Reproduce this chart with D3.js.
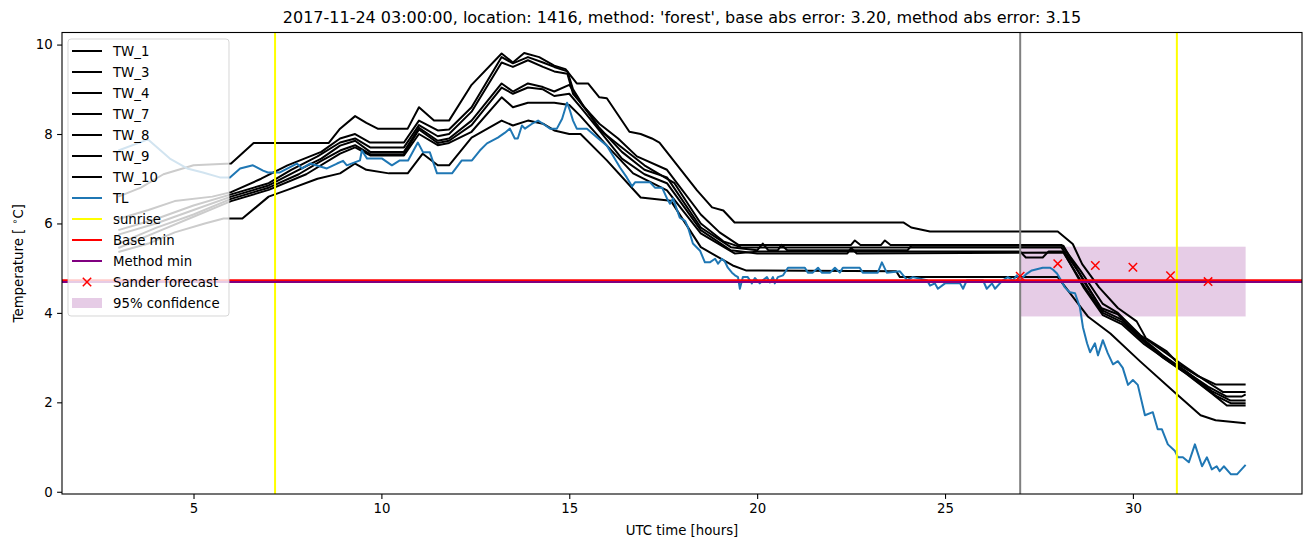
<!DOCTYPE html>
<html lang="en">
<head>
<meta charset="utf-8">
<title>forecast plot</title>
<script src="https://d3js.org/d3.v7.min.js"></script>
<style>
  body { margin: 0; background: #fff; }
  text { font-family: "DejaVu Sans", sans-serif; fill: #000; }
</style>
</head>
<body>
<script>
// readings: [hour, temperature]
var tw1 = [[3.0,6.6],[3.6,6.8],[4.2,7.1],[5.0,7.3],[6.0,7.34],[6.6,7.8],[8.6,7.8],[8.9,8.12],[9.3,8.4],[9.6,8.25],[9.9,8.12],[10.7,8.12],[11.0,8.6],[11.4,8.3],[11.8,8.3],[12.4,9.1],[13.2,9.8],[13.5,9.6],[13.8,9.81],[14.2,9.72],[14.6,9.53],[14.9,9.45],[15.2,9.13],[15.5,9.13],[15.8,8.82],[16.0,8.8],[16.6,8.05],[16.9,8.0],[17.2,7.9],[17.4,7.81],[18.4,6.74],[18.8,6.36],[19.1,6.29],[19.4,6.02],[23.9,6.02],[24.1,5.91],[24.6,5.82],[28.0,5.82],[28.4,5.54],[28.65,5.09],[29.1,4.57],[29.6,4.11],[30.1,3.81],[30.35,3.43],[30.9,3.14],[31.25,2.83],[31.7,2.6],[32.2,2.4],[33.0,2.4]];
var tw3 = [[3.0,6.1],[3.8,6.3],[4.5,6.5],[5.5,6.6],[6.0,6.7],[6.8,7.0],[7.5,7.3],[8.4,7.6],[8.9,7.9],[9.3,8.0],[9.7,7.81],[10.6,7.81],[11.0,8.3],[11.5,8.08],[11.8,8.1],[12.4,8.6],[13.2,9.72],[13.5,9.58],[13.9,9.72],[14.3,9.6],[14.6,9.5],[14.95,9.4],[15.1,9.0],[15.4,8.6],[15.8,8.23],[16.3,7.9],[16.8,7.5],[17.6,7.2],[18.5,6.2],[19.0,5.8],[19.5,5.52],[22.5,5.52],[22.6,5.62],[22.75,5.52],[23.3,5.52],[23.4,5.62],[23.55,5.52],[28.1,5.52],[28.6,4.95],[29.2,4.2],[29.6,4.0],[30.2,3.5],[30.8,3.15],[31.3,2.85],[31.9,2.5],[32.4,2.23],[33.0,2.23]];
var tw4 = [[3.0,5.85],[4.0,6.1],[5.0,6.4],[6.0,6.65],[7.0,6.9],[7.6,7.2],[8.3,7.5],[8.9,7.81],[9.3,7.9],[9.7,7.7],[10.6,7.7],[11.0,8.2],[11.5,7.95],[11.8,8.0],[12.4,8.5],[13.2,9.6],[13.5,9.5],[13.9,9.65],[14.3,9.5],[14.6,9.4],[14.95,9.35],[15.1,8.9],[15.5,8.5],[15.8,8.1],[16.4,7.7],[17.0,7.3],[17.8,6.9],[18.5,6.0],[19.1,5.6],[19.6,5.46],[28.1,5.46],[28.6,4.86],[29.15,4.11],[29.6,3.97],[30.1,3.5],[30.7,3.1],[31.3,2.75],[32.0,2.35],[32.5,2.13],[32.9,2.13],[33.0,2.18]];
var tw7 = [[3.0,5.75],[4.0,6.0],[5.0,6.3],[6.0,6.6],[7.0,6.85],[7.8,7.2],[8.4,7.45],[8.9,7.74],[9.3,7.85],[9.7,7.6],[10.6,7.6],[11.0,8.14],[11.5,7.85],[11.8,7.9],[12.4,8.3],[13.2,9.13],[13.5,8.95],[13.9,9.13],[14.3,9.05],[14.6,8.95],[15.0,9.1],[15.3,8.7],[15.8,8.14],[16.4,7.6],[17.0,7.2],[17.6,7.03],[18.5,5.91],[19.3,5.47],[20.0,5.4],[20.15,5.55],[20.3,5.4],[20.55,5.4],[20.65,5.52],[20.8,5.4],[24.0,5.4],[24.1,5.5],[28.15,5.5],[28.7,4.7],[29.2,4.05],[29.7,3.85],[30.3,3.4],[30.8,3.05],[31.4,2.7],[32.1,2.25],[32.6,2.04],[33.0,2.04]];
var tw8 = [[3.0,5.55],[4.0,5.9],[5.0,6.2],[6.0,6.55],[7.0,6.8],[7.8,7.1],[8.4,7.4],[8.9,7.63],[9.3,7.75],[9.7,7.55],[10.6,7.55],[11.0,8.1],[11.5,7.8],[11.8,7.85],[12.4,8.2],[13.2,9.04],[13.5,8.9],[13.9,9.04],[14.3,9.0],[14.6,8.85],[15.0,8.9],[15.3,8.6],[15.8,8.08],[16.4,7.45],[17.0,7.1],[17.6,6.9],[18.5,5.85],[19.3,5.4],[20.0,5.33],[22.4,5.33],[22.5,5.45],[22.65,5.33],[28.15,5.35],[28.7,4.6],[29.2,4.0],[29.7,3.8],[30.3,3.35],[30.8,3.0],[31.4,2.65],[32.1,2.2],[32.5,1.93],[33.0,1.93]];
var tw9 = [[3.0,5.45],[4.0,5.8],[5.0,6.15],[6.0,6.5],[7.0,6.75],[8.0,7.1],[8.9,7.56],[9.3,7.7],[9.7,7.52],[10.6,7.52],[11.0,8.0],[11.5,7.75],[11.8,7.8],[12.4,8.05],[13.2,8.82],[13.5,8.6],[13.9,8.7],[14.6,8.7],[15.0,8.65],[15.3,8.4],[16.0,7.74],[16.7,7.12],[17.6,6.74],[18.5,5.78],[19.4,5.33],[20.0,5.37],[27.0,5.37],[27.15,5.24],[27.6,5.24],[27.75,5.37],[28.15,5.37],[28.7,4.55],[29.2,3.95],[29.7,3.75],[30.3,3.3],[30.9,2.95],[31.5,2.6],[32.2,2.15],[32.6,1.98],[33.0,1.98]];
var tw10 = [[3.0,5.36],[3.8,5.55],[4.5,5.8],[5.3,6.0],[5.8,6.11],[6.3,6.11],[7.0,6.6],[7.5,6.75],[8.3,7.0],[8.9,7.12],[9.3,7.34],[9.6,7.2],[10.2,7.12],[10.7,7.12],[11.1,7.56],[11.5,7.3],[11.8,7.3],[12.4,7.92],[13.2,8.3],[13.5,8.19],[13.9,8.3],[14.3,8.23],[14.6,8.08],[15.0,8.0],[15.3,8.0],[16.0,7.41],[16.9,6.58],[17.7,6.51],[18.5,5.47],[19.35,5.06],[19.7,4.95],[23.7,4.93],[23.8,4.8],[28.0,4.8],[28.8,3.92],[29.4,3.54],[30.2,2.91],[31.1,2.23],[31.8,1.71],[32.2,1.6],[33.0,1.53]];
var tl = [[3.0,7.63],[3.79,7.88],[4.37,7.45],[4.83,7.23],[5.25,7.14],[5.7,7.03],[5.97,7.03],[6.24,7.23],[6.58,7.3],[6.85,7.18],[6.98,7.14],[7.3,7.14],[7.75,7.34],[7.89,7.23],[8.1,7.34],[8.55,7.23],[8.82,7.34],[8.98,7.4],[9.08,7.3],[9.43,7.41],[9.48,7.63],[9.62,7.45],[10.02,7.45],[10.28,7.3],[10.49,7.41],[10.71,7.41],[10.97,7.81],[11.11,7.59],[11.29,7.59],[11.48,7.12],[11.88,7.12],[12.14,7.41],[12.41,7.41],[12.62,7.63],[12.81,7.79],[13.1,7.92],[13.29,8.03],[13.42,8.12],[13.55,7.9],[13.63,7.9],[13.74,8.19],[13.82,8.12],[14.01,8.23],[14.17,8.3],[14.3,8.23],[14.49,8.12],[14.67,8.12],[14.81,8.34],[14.94,8.7],[15.02,8.52],[15.1,8.3],[15.2,8.12],[15.47,8.12],[15.74,7.92],[16.0,7.74],[16.16,7.52],[16.35,7.25],[16.53,7.03],[16.67,6.83],[16.75,6.92],[17.15,6.92],[17.28,6.8],[17.47,6.8],[17.6,6.56],[17.68,6.44],[17.76,6.56],[17.94,6.13],[18.08,6.06],[18.16,5.91],[18.29,5.55],[18.48,5.39],[18.61,5.13],[18.74,5.13],[18.88,5.21],[18.96,5.1],[19.06,5.21],[19.14,5.15],[19.22,5.01],[19.33,4.9],[19.41,4.84],[19.49,4.8],[19.54,4.54],[19.62,4.8],[19.75,4.8],[19.86,4.66],[19.94,4.78],[20.07,4.66],[20.15,4.73],[20.26,4.8],[20.34,4.68],[20.42,4.8],[20.47,4.66],[20.55,4.8],[20.69,4.84],[20.82,5.01],[21.27,5.01],[21.35,4.9],[21.48,4.9],[21.62,5.01],[21.72,4.9],[21.94,4.9],[22.07,5.01],[22.2,4.9],[22.28,5.01],[22.73,5.01],[22.81,4.9],[23.21,4.9],[23.32,5.13],[23.45,4.9],[23.8,4.93],[23.99,4.73],[24.14,4.8],[24.52,4.73],[24.6,4.61],[24.73,4.66],[24.81,4.54],[25.0,4.66],[25.4,4.66],[25.48,4.54],[25.58,4.73],[26.01,4.73],[26.11,4.54],[26.25,4.66],[26.33,4.54],[26.46,4.66],[26.54,4.73],[26.67,4.8],[26.81,4.73],[26.91,4.84],[26.99,4.73],[27.18,4.88],[27.31,4.95],[27.6,5.01],[27.79,5.01],[27.87,4.97],[27.98,4.88],[28.06,4.77],[28.19,4.57],[28.32,4.46],[28.46,4.44],[28.59,4.12],[28.67,3.68],[28.78,3.32],[28.86,3.12],[28.99,3.32],[29.07,3.05],[29.2,3.39],[29.33,3.1],[29.47,2.85],[29.6,2.92],[29.73,2.77],[29.87,2.39],[30.0,2.5],[30.13,2.39],[30.32,1.71],[30.53,1.78],[30.66,1.4],[30.77,1.4],[30.93,1.06],[31.12,0.91],[31.2,0.77],[31.33,0.77],[31.49,0.66],[31.65,1.06],[31.84,0.57],[31.97,0.77],[32.1,0.5],[32.23,0.57],[32.31,0.46],[32.42,0.57],[32.61,0.39],[32.77,0.39],[33.0,0.6]];

var twNames = ["TW_1", "TW_3", "TW_4", "TW_7", "TW_8", "TW_9", "TW_10"];
var sunriseHours = [7.17, 31.17];
var forecastTime = 27;
var baseMin = 4.73;
var methodMin = 4.69;
var sanderHours = [27, 28, 29, 30, 31, 32];
var sanderValues = [4.82, 5.1, 5.06, 5.02, 4.83, 4.7];
var confHours = [27, 33];
var confLow = 3.92;
var confHigh = 5.48;
var xTicks = [5, 10, 15, 20, 25, 30];
var yTicks = [0, 2, 4, 6, 8, 10];
var titleText = "2017-11-24 03:00:00, location: 1416, method: 'forest', base abs error: 3.20, method abs error: 3.15";

var W = 1310, H = 547;
var margin = {left: 62, right: 8, top: 32.5, bottom: 53};

var svg = d3.select("body").append("svg")
  .attr("width", W)
  .attr("height", H);

var x = d3.scaleLinear().domain([1.5, 34.5]).range([margin.left, W - margin.right]);
var y = d3.scaleLinear().domain([-0.05, 10.27]).range([H - margin.bottom, margin.top]);

svg.append("clipPath").attr("id", "clip")
  .append("rect")
  .attr("x", x.range()[0]).attr("y", y.range()[1])
  .attr("width", x.range()[1] - x.range()[0])
  .attr("height", y.range()[0] - y.range()[1]);

var plot = svg.append("g").attr("clip-path", "url(#clip)");

// 95% confidence band (patches sit below lines)
plot.append("rect")
  .attr("x", x(confHours[0]))
  .attr("y", y(confHigh))
  .attr("width", x(confHours[1]) - x(confHours[0]))
  .attr("height", y(confLow) - y(confHigh))
  .attr("fill", "purple")
  .attr("fill-opacity", 0.2);

var line = d3.line()
  .x(function(d) { return x(d[0]); })
  .y(function(d) { return y(d[1]); });

var twSeries = [tw1, tw3, tw4, tw7, tw8, tw9, tw10];
twSeries.forEach(function(s) {
  plot.append("path")
    .attr("d", line(s))
    .attr("fill", "none")
    .attr("stroke", "black")
    .attr("stroke-width", 2)
    .attr("stroke-linejoin", "round");
});

plot.append("path")
  .attr("d", line(tl))
  .attr("fill", "none")
  .attr("stroke", "#1f77b4")
  .attr("stroke-width", 2)
  .attr("stroke-linejoin", "round");

// forecast time marker
plot.append("line")
  .attr("x1", x(forecastTime)).attr("x2", x(forecastTime))
  .attr("y1", y.range()[0]).attr("y2", y.range()[1])
  .attr("stroke", "gray").attr("stroke-width", 2);

sunriseHours.forEach(function(h) {
  plot.append("line")
    .attr("x1", x(h)).attr("x2", x(h))
    .attr("y1", y.range()[0]).attr("y2", y.range()[1])
    .attr("stroke", "yellow").attr("stroke-width", 2);
});

plot.append("line")
  .attr("x1", x.range()[0]).attr("x2", x.range()[1])
  .attr("y1", y(baseMin)).attr("y2", y(baseMin))
  .attr("stroke", "red").attr("stroke-width", 2);

plot.append("line")
  .attr("x1", x.range()[0]).attr("x2", x.range()[1])
  .attr("y1", y(methodMin)).attr("y2", y(methodMin))
  .attr("stroke", "purple").attr("stroke-width", 2);

function cross(g, cx, cy, r) {
  g.append("path")
    .attr("d", "M" + (cx - r) + "," + (cy - r) + "L" + (cx + r) + "," + (cy + r) +
               "M" + (cx - r) + "," + (cy + r) + "L" + (cx + r) + "," + (cy - r))
    .attr("stroke", "red").attr("stroke-width", 1.5).attr("fill", "none");
}
sanderHours.forEach(function(h, i) {
  cross(plot, x(h), y(sanderValues[i]), 4.2);
});

// axes
var xAxis = svg.append("g")
  .attr("transform", "translate(0," + y.range()[0] + ")")
  .call(d3.axisBottom(x).tickValues(xTicks).tickSize(4.9).tickPadding(4.5));
var yAxis = svg.append("g")
  .attr("transform", "translate(" + x.range()[0] + ",0)")
  .call(d3.axisLeft(y).tickValues(yTicks).tickSize(4.9).tickPadding(4.5));
[xAxis, yAxis].forEach(function(a) {
  a.select(".domain").remove();
  a.selectAll(".tick line").attr("stroke", "black").attr("stroke-width", 1.1);
  a.selectAll("text").attr("font-size", 13.3).attr("font-family", "DejaVu Sans");
});

svg.append("rect")
  .attr("x", x.range()[0]).attr("y", y.range()[1])
  .attr("width", x.range()[1] - x.range()[0])
  .attr("height", y.range()[0] - y.range()[1])
  .attr("fill", "none").attr("stroke", "black").attr("stroke-width", 1.1);

svg.append("text")
  .attr("x", (x.range()[0] + x.range()[1]) / 2).attr("y", 23)
  .attr("text-anchor", "middle").attr("font-size", 16)
  .text(titleText);

svg.append("text")
  .attr("x", (x.range()[0] + x.range()[1]) / 2).attr("y", 535)
  .attr("text-anchor", "middle").attr("font-size", 13.3)
  .text("UTC time [hours]");

var yl = svg.append("text")
  .attr("transform", "translate(23," + ((y.range()[0] + y.range()[1]) / 2) + ") rotate(-90)")
  .attr("text-anchor", "middle").attr("font-size", 13.3);
yl.append("tspan").text("Temperature [ ");
yl.append("tspan").attr("font-size", 9.5).attr("dy", -5).text("\u2218");
yl.append("tspan").attr("dy", 5).text("C]");

// legend
var leg = svg.append("g");
leg.append("rect")
  .attr("x", 68).attr("y", 39).attr("width", 161).attr("height", 277)
  .attr("rx", 3)
  .attr("fill", "white").attr("fill-opacity", 0.8)
  .attr("stroke", "#cccccc").attr("stroke-opacity", 0.8);

var legItems = [];
twNames.forEach(function(n) { legItems.push({label: n, kind: "line", color: "black"}); });
legItems.push({label: "TL", kind: "line", color: "#1f77b4"});
legItems.push({label: "sunrise", kind: "line", color: "yellow"});
legItems.push({label: "Base min", kind: "line", color: "red"});
legItems.push({label: "Method min", kind: "line", color: "purple"});
legItems.push({label: "Sander forecast", kind: "marker", color: "red"});
legItems.push({label: "95% confidence", kind: "patch", color: "purple"});

legItems.forEach(function(it, i) {
  var cy = 51 + i * 21;
  if (it.kind === "line") {
    leg.append("line")
      .attr("x1", 72).attr("x2", 102).attr("y1", cy).attr("y2", cy)
      .attr("stroke", it.color).attr("stroke-width", 2);
  } else if (it.kind === "marker") {
    cross(leg, 87, cy, 4.2);
  } else {
    leg.append("rect")
      .attr("x", 72).attr("y", cy - 5).attr("width", 30).attr("height", 10)
      .attr("fill", it.color).attr("fill-opacity", 0.2);
  }
  leg.append("text")
    .attr("x", 113).attr("y", cy + 5)
    .attr("font-size", 13.3)
    .text(it.label);
});
</script>
</body>
</html>
